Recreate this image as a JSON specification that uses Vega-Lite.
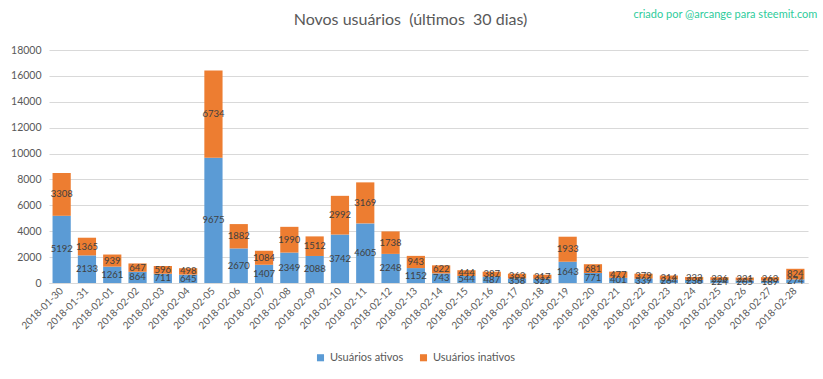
{
  "$schema": "https://vega.github.io/schema/vega-lite/v6.json",
  "autosize": {"type": "none"},
  "width": 759,
  "height": 233,
  "padding": {"left": 49, "top": 50, "right": 15, "bottom": 96},
  "background": "white",
  "title": {"text": "Novos usuários \u00a0(últimos \u00a030 dias)", "font": "Lato", "fontSize": 16, "fontWeight": "normal", "color": "#595959", "anchor": "middle", "frame": "group", "offset": -19, "dx": -18},
  "config": {
    "view": {"stroke": null},
    "font": "Lato"
  },
  "resolve": {"axis": {"y": "independent"}},
  "datasets": {
    "users": [
    {"date": "2018-01-30", "status": "Usuários ativos", "value": 5192},
    {"date": "2018-01-30", "status": "Usuários inativos", "value": 3308},
    {"date": "2018-01-31", "status": "Usuários ativos", "value": 2133},
    {"date": "2018-01-31", "status": "Usuários inativos", "value": 1365},
    {"date": "2018-02-01", "status": "Usuários ativos", "value": 1261},
    {"date": "2018-02-01", "status": "Usuários inativos", "value": 939},
    {"date": "2018-02-02", "status": "Usuários ativos", "value": 864},
    {"date": "2018-02-02", "status": "Usuários inativos", "value": 647},
    {"date": "2018-02-03", "status": "Usuários ativos", "value": 711},
    {"date": "2018-02-03", "status": "Usuários inativos", "value": 596},
    {"date": "2018-02-04", "status": "Usuários ativos", "value": 645},
    {"date": "2018-02-04", "status": "Usuários inativos", "value": 498},
    {"date": "2018-02-05", "status": "Usuários ativos", "value": 9675},
    {"date": "2018-02-05", "status": "Usuários inativos", "value": 6734},
    {"date": "2018-02-06", "status": "Usuários ativos", "value": 2670},
    {"date": "2018-02-06", "status": "Usuários inativos", "value": 1882},
    {"date": "2018-02-07", "status": "Usuários ativos", "value": 1407},
    {"date": "2018-02-07", "status": "Usuários inativos", "value": 1084},
    {"date": "2018-02-08", "status": "Usuários ativos", "value": 2349},
    {"date": "2018-02-08", "status": "Usuários inativos", "value": 1990},
    {"date": "2018-02-09", "status": "Usuários ativos", "value": 2088},
    {"date": "2018-02-09", "status": "Usuários inativos", "value": 1512},
    {"date": "2018-02-10", "status": "Usuários ativos", "value": 3742},
    {"date": "2018-02-10", "status": "Usuários inativos", "value": 2992},
    {"date": "2018-02-11", "status": "Usuários ativos", "value": 4605},
    {"date": "2018-02-11", "status": "Usuários inativos", "value": 3169},
    {"date": "2018-02-12", "status": "Usuários ativos", "value": 2248},
    {"date": "2018-02-12", "status": "Usuários inativos", "value": 1738},
    {"date": "2018-02-13", "status": "Usuários ativos", "value": 1152},
    {"date": "2018-02-13", "status": "Usuários inativos", "value": 943},
    {"date": "2018-02-14", "status": "Usuários ativos", "value": 743},
    {"date": "2018-02-14", "status": "Usuários inativos", "value": 622},
    {"date": "2018-02-15", "status": "Usuários ativos", "value": 544},
    {"date": "2018-02-15", "status": "Usuários inativos", "value": 444},
    {"date": "2018-02-16", "status": "Usuários ativos", "value": 487},
    {"date": "2018-02-16", "status": "Usuários inativos", "value": 387},
    {"date": "2018-02-17", "status": "Usuários ativos", "value": 358},
    {"date": "2018-02-17", "status": "Usuários inativos", "value": 363},
    {"date": "2018-02-18", "status": "Usuários ativos", "value": 325},
    {"date": "2018-02-18", "status": "Usuários inativos", "value": 317},
    {"date": "2018-02-19", "status": "Usuários ativos", "value": 1643},
    {"date": "2018-02-19", "status": "Usuários inativos", "value": 1933},
    {"date": "2018-02-20", "status": "Usuários ativos", "value": 771},
    {"date": "2018-02-20", "status": "Usuários inativos", "value": 681},
    {"date": "2018-02-21", "status": "Usuários ativos", "value": 401},
    {"date": "2018-02-21", "status": "Usuários inativos", "value": 477},
    {"date": "2018-02-22", "status": "Usuários ativos", "value": 339},
    {"date": "2018-02-22", "status": "Usuários inativos", "value": 379},
    {"date": "2018-02-23", "status": "Usuários ativos", "value": 264},
    {"date": "2018-02-23", "status": "Usuários inativos", "value": 314},
    {"date": "2018-02-24", "status": "Usuários ativos", "value": 238},
    {"date": "2018-02-24", "status": "Usuários inativos", "value": 232},
    {"date": "2018-02-25", "status": "Usuários ativos", "value": 224},
    {"date": "2018-02-25", "status": "Usuários inativos", "value": 226},
    {"date": "2018-02-26", "status": "Usuários ativos", "value": 205},
    {"date": "2018-02-26", "status": "Usuários inativos", "value": 221},
    {"date": "2018-02-27", "status": "Usuários ativos", "value": 189},
    {"date": "2018-02-27", "status": "Usuários inativos", "value": 263},
    {"date": "2018-02-28", "status": "Usuários ativos", "value": 274},
    {"date": "2018-02-28", "status": "Usuários inativos", "value": 824}
    ],
    "note": [{"label": "criado por @arcange para steemit.com"}]
  },
  "encoding": {
    "x": {"field": "date", "type": "ordinal", "sort": null,
      "scale": {"paddingInner": 0.28, "paddingOuter": 0.14},
      "axis": {"title": null, "labelAngle": -45, "labelFont": "Lato", "labelFontSize": 10, "labelColor": "#595959", "ticks": false, "domainColor": "#d9d9d9", "labelPadding": 6, "labelAlign": "right", "labelBaseline": "middle", "labelOverlap": false}}
  },
  "layer": [
    {
      "data": {"name": "users"},
      "transform": [
        {"stack": "value", "groupby": ["date"], "sort": [{"field": "status", "order": "ascending"}], "as": ["v0", "v1"]}
      ],
      "mark": {"type": "bar"},
      "encoding": {
        "y": {"field": "v0", "type": "quantitative",
          "scale": {"domain": [0, 18000], "nice": false},
          "axis": {"title": null, "values": [0, 2000, 4000, 6000, 8000, 10000, 12000, 14000, 16000, 18000], "format": "d", "labelFont": "Lato", "labelFontSize": 10.5, "labelColor": "#595959", "gridColor": "#d9d9d9", "domain": false, "ticks": false, "labelPadding": 8, "labelOverlap": false}},
        "y2": {"field": "v1"},
        "color": {"field": "status", "type": "nominal",
          "scale": {"domain": ["Usuários ativos", "Usuários inativos"], "range": ["#5B9BD5", "#ED7D31"]},
          "legend": {"title": null, "orient": "none", "legendX": 266, "legendY": 302, "direction": "horizontal", "symbolType": "square", "symbolSize": 50, "labelFont": "Lato", "labelFontSize": 11, "labelColor": "#595959", "columnPadding": 14}}
      }
    },
    {
      "data": {"name": "users"},
      "transform": [
        {"stack": "value", "groupby": ["date"], "sort": [{"field": "status", "order": "ascending"}], "as": ["v0", "v1"]},
        {"calculate": "(datum.v0 + datum.v1) / 2", "as": "vmid"}
      ],
      "mark": {"type": "text", "font": "Lato", "fontSize": 9.5, "color": "#404040"},
      "encoding": {
        "y": {"field": "vmid", "type": "quantitative", "axis": null},
        "text": {"field": "value", "type": "quantitative", "format": "d"}
      }
    },
    {
      "data": {"name": "note"},
      "mark": {"type": "text", "font": "Lato", "fontSize": 11, "fontWeight": "normal", "color": "#2ECC9B", "align": "right", "dy": -35, "dx": 22},
      "encoding": {
        "x": {"datum": "2018-02-28"},
        "y": {"datum": 18000, "axis": null},
        "text": {"field": "label", "type": "nominal"}
      }
    }
  ]
}
